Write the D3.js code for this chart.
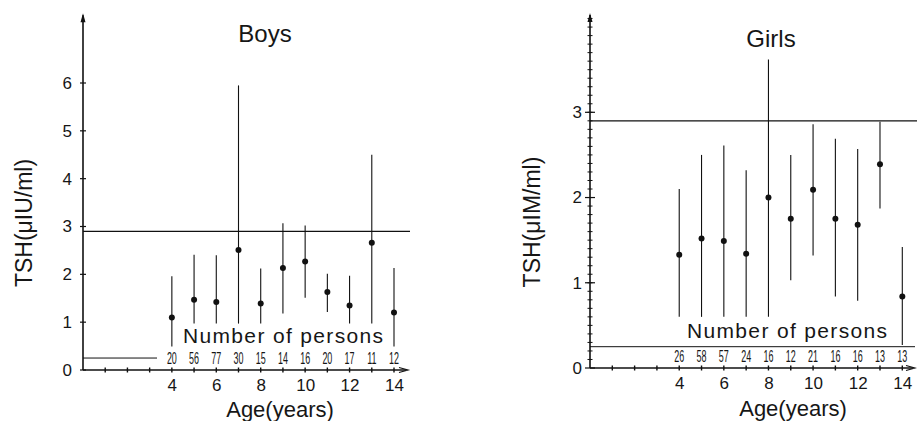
<!DOCTYPE html>
<html><head><meta charset="utf-8">
<script src="https://cdn.jsdelivr.net/npm/d3@7"></script>
<style>
body{margin:0;background:#fff}
svg{display:block}
text{font-family:"Liberation Sans",Arial,sans-serif;fill:#161616}
</style>
</head><body><svg id="c" width="917" height="421"></svg>
<script>
// ---------- data ----------
const ages = [4,5,6,7,8,9,10,11,12,13,14];

const boysMean = [1.10,1.47,1.42,2.51,1.39,2.13,2.27,1.63,1.35,2.66,1.20];
const boysHigh = [1.96,2.41,2.40,5.95,2.12,3.07,3.02,2.01,1.97,4.50,2.13];
const boysLow  = [0.49,0.97,0.97,0.97,0.97,1.18,1.51,1.21,0.97,0.97,0.49];
const boysN    = [20,56,77,30,15,14,16,20,17,11,12];

const girlsMean = [1.33,1.52,1.49,1.34,2.00,1.75,2.09,1.75,1.68,2.39,0.84];
const girlsHigh = [2.10,2.50,2.61,2.32,3.62,2.50,2.86,2.69,2.57,2.89,1.42];
const girlsLow  = [0.60,0.60,0.60,0.60,0.60,1.03,1.32,0.84,0.79,1.87,0.27];
const girlsN    = [26,58,57,24,16,12,21,16,16,13,13];

const boysYTicks  = [0,1,2,3,4,5,6];
const girlsYTicks = [0,1,2,3];
const xTickLabels = [4,6,8,10,12,14];
const xMinorTicks = [1,2,3,4,5,6,7,8,9,10,11,12,13,14];
const upperLimit = 2.9;
const lowerLimit = 0.25;

const panels = [
  {title:"Boys", ylab:"TSH(\u03bcIU/ml)", mean:boysMean, high:boysHigh, low:boysLow, n:boysN,
   yTicks:boysYTicks, yMax:7.46, xMax:14.63, x0:83, x14:394, y0:370, y6val:6, yTop:83,
   titleX:265, titleY:42, ylabX:32, ylabY:223, xlabX:280, xlabY:417, xTickPad:9,
   npX:283, npY:343, npW:200, nY:364, upperEnd:410, lowerEnd:157, minor:false},
  {title:"Girls", ylab:"TSH(\u03bcIM/ml)", mean:girlsMean, high:girlsHigh, low:girlsLow, n:girlsN,
   yTicks:girlsYTicks, yMax:4.165, xMax:14.57, x0:590, x14:902.3, y0:368, y6val:3, yTop:112.3,
   titleX:771, titleY:47, ylabX:540, ylabY:222, xlabX:793, xlabY:416, xTickPad:9,
   npX:787, npY:338, npW:200, nY:362, upperEnd:917, lowerEnd:915, minor:true}
];

const svg = d3.select("#c");

panels.forEach(p => {
  const x = d3.scaleLinear().domain([0,14]).range([p.x0, p.x14]);
  const y = d3.scaleLinear().domain([0,p.y6val]).range([p.y0, p.yTop]);
  const g = svg.append("g");

  // axes lines with arrows
  const yTopPix = y(p.yMax), xEndPix = x(p.xMax);
  g.append("line").attr("x1",x(0)).attr("x2",x(0)).attr("y1",y(0)).attr("y2",yTopPix+2)
    .attr("stroke","#111").attr("stroke-width",1.6);
  g.append("path").attr("d",`M${x(0)-2.5},${yTopPix+9}L${x(0)},${yTopPix}L${x(0)+2.5},${yTopPix+9}Z`).attr("fill","#111");
  g.append("line").attr("x1",x(0)).attr("x2",xEndPix-2).attr("y1",y(0)).attr("y2",y(0))
    .attr("stroke","#111").attr("stroke-width",1.6);
  g.append("path").attr("d",`M${xEndPix-9},${y(0)-2.5}L${xEndPix},${y(0)}L${xEndPix-9},${y(0)+2.5}`)
    .attr("fill","none").attr("stroke","#111").attr("stroke-width",1.2);

  // y ticks
  if (p.minor) {
    d3.range(1, Math.floor(p.yMax*10)+1).forEach(i => {
      const v = i/10;
      g.append("line").attr("x1",x(0)-2.5).attr("x2",x(0)+2.5).attr("y1",y(v)).attr("y2",y(v))
        .attr("stroke","#111").attr("stroke-width",1);
    });
  }
  p.yTicks.forEach(v => {
    g.append("line").attr("x1",x(0)-(p.minor?5:3)).attr("x2",x(0)+(p.minor?5:3)).attr("y1",y(v)).attr("y2",y(v))
      .attr("stroke","#111").attr("stroke-width",1.2);
  });
  const yAxis = d3.axisLeft(y).tickValues(p.yTicks).tickSize(0).tickPadding(p.minor?8:11).tickFormat(d3.format("d"));
  const ya = g.append("g").attr("transform",`translate(${x(0)},0)`).call(yAxis);
  ya.select(".domain").remove();
  ya.selectAll("text").style("font-size","17px").attr("fill","#161616");

  // x ticks
  xMinorTicks.forEach(v => {
    g.append("line").attr("x1",x(v)).attr("x2",x(v)).attr("y1",y(0)-2.5).attr("y2",y(0)+2.5)
      .attr("stroke","#111").attr("stroke-width",1.4);
  });
  const xAxis = d3.axisBottom(x).tickValues(xTickLabels).tickSize(0).tickPadding(p.xTickPad).tickFormat(d3.format("d"));
  const xa = g.append("g").attr("transform",`translate(0,${y(0)})`).call(xAxis);
  xa.select(".domain").remove();
  xa.selectAll("text").style("font-size","17px").attr("fill","#161616");

  // reference lines
  g.append("line").attr("x1",x(0)).attr("x2",p.upperEnd).attr("y1",y(upperLimit)).attr("y2",y(upperLimit))
    .attr("stroke","#111").attr("stroke-width",1.2);
  g.append("line").attr("x1",x(0)).attr("x2",p.lowerEnd).attr("y1",y(lowerLimit)).attr("y2",y(lowerLimit))
    .attr("stroke","#111").attr("stroke-width",1);

  // error bars and means
  ages.forEach((a,i) => {
    g.append("line").attr("x1",x(a)).attr("x2",x(a)).attr("y1",y(p.low[i])).attr("y2",y(p.high[i]))
      .attr("stroke","#111").attr("stroke-width",1.1);
    g.append("circle").attr("cx",x(a)).attr("cy",y(p.mean[i])).attr("r",3).attr("fill","#111");
    g.append("text").attr("transform",`translate(${x(a)},${p.nY}) scale(0.56,1)`)
      .attr("text-anchor","middle").style("font-size","16px").text(p.n[i]);
  });

  // texts
  g.append("text").attr("x",p.titleX).attr("y",p.titleY).attr("text-anchor","middle")
    .style("font-size","24px").text(p.title);
  g.append("text").attr("transform",`translate(${p.ylabX},${p.ylabY}) rotate(-90)`).attr("text-anchor","middle")
    .style("font-size","23px").text(p.ylab);
  g.append("text").attr("x",p.xlabX).attr("y",p.xlabY).attr("text-anchor","middle")
    .style("font-size","22px").text("Age(years)");
  g.append("text").attr("x",p.npX).attr("y",p.npY).attr("text-anchor","middle")
    .attr("textLength",p.npW).attr("lengthAdjust","spacing")
    .style("font-size","21px").text("Number of persons");
});
</script>
</body></html>
